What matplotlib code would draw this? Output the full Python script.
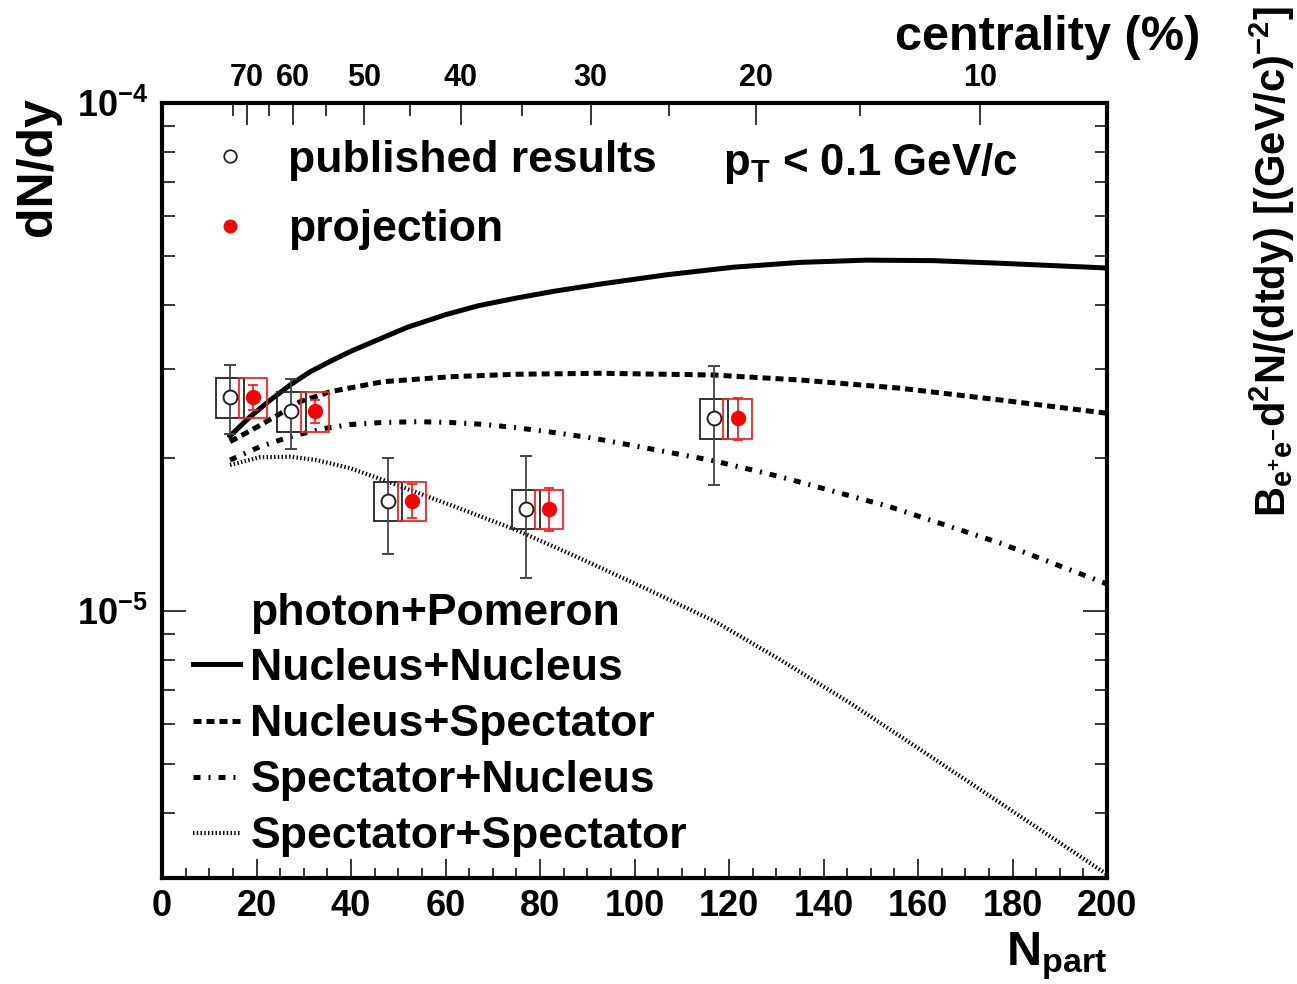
import matplotlib
matplotlib.use("Agg")
import matplotlib.pyplot as plt
from matplotlib.lines import Line2D
from matplotlib.patches import Rectangle
from matplotlib.ticker import FixedLocator, FixedFormatter, LogLocator, NullFormatter, MultipleLocator

plt.rcParams['font.family'] = ['Liberation Sans', 'DejaVu Sans']
plt.rcParams['font.weight'] = 'bold'
plt.rcParams['mathtext.fontset'] = 'custom'
plt.rcParams['mathtext.rm'] = 'Liberation Sans:bold'
plt.rcParams['mathtext.bf'] = 'Liberation Sans:bold'
plt.rcParams['mathtext.it'] = 'Liberation Sans:bold'
plt.rcParams['mathtext.default'] = 'bf'

# photon+Pomeron model curves, dN/dy vs Npart
npart_nn = [14.4, 18.6, 22.9, 27.1, 31.3, 35.6, 39.8, 45.4, 52.0, 60.0, 67.0, 75.0, 83.0, 92.7,
            106.8, 120.9, 135.0, 149.1, 163.2, 177.4, 198.5, 200.0]
dndy_nn = [2.21e-5, 2.41e-5, 2.60e-5, 2.785e-5, 2.955e-5, 3.10e-5, 3.24e-5, 3.41e-5, 3.62e-5, 3.83e-5,
           3.99e-5, 4.13e-5, 4.26e-5, 4.40e-5, 4.59e-5, 4.75e-5, 4.855e-5, 4.905e-5, 4.894e-5,
           4.836e-5, 4.74e-5, 4.73e-5]

npart_ns = [14.4, 20.0, 25.7, 29.2, 35.6, 46.8, 61.0, 75.0, 92.7, 116.7, 135.0, 156.2, 177.4, 200.0]
dndy_ns = [2.154e-5, 2.299e-5, 2.467e-5, 2.582e-5, 2.702e-5, 2.827e-5, 2.891e-5, 2.924e-5, 2.937e-5,
           2.914e-5, 2.849e-5, 2.745e-5, 2.602e-5, 2.45e-5]

npart_sn = [14.4, 20.7, 27.1, 34.1, 40.0, 46.8, 54.0, 61.0, 68.0, 75.0, 83.0, 91.3, 104.7, 116.8,
            130.8, 154.0, 177.4, 200.0]
dndy_sn = [1.982e-5, 2.105e-5, 2.203e-5, 2.285e-5, 2.328e-5, 2.350e-5, 2.358e-5, 2.350e-5, 2.330e-5,
           2.295e-5, 2.245e-5, 2.188e-5, 2.074e-5, 1.975e-5, 1.838e-5, 1.604e-5, 1.360e-5, 1.13e-5]

npart_ss = [14.4, 20.7, 27.1, 32.7, 39.8, 46.8, 61.0, 75.0, 88.5, 103.0, 117.1, 131.0, 145.7, 160.0,
            174.3, 187.0, 198.6, 200.0]
dndy_ss = [1.938e-5, 2.007e-5, 2.012e-5, 1.982e-5, 1.910e-5, 1.811e-5, 1.617e-5, 1.443e-5, 1.269e-5,
           1.10e-5, 9.526e-6, 8.0e-6, 6.58e-6, 5.37e-6, 4.377e-6, 3.65e-6, 3.09e-6, 3.03e-6]

# measured points and projection
npart_pub = [14.4, 27.4, 47.8, 77.0, 116.8]
npart_proj = [19.3, 32.4, 52.9, 81.9, 121.8]
dndy_pts = [2.64e-5, 2.475e-5, 1.649e-5, 1.59e-5, 2.401e-5]
stat_pub = [0.41e-5, 0.39e-5, 0.353e-5, 0.431e-5, 0.635e-5]
stat_proj = [0.15e-5, 0.13e-5, 0.125e-5, 0.153e-5, 0.228e-5]
sys_err = [0.24e-5, 0.22e-5, 0.147e-5, 0.143e-5, 0.217e-5]

# centrality scale on top, placed at the corresponding Npart
cent_major = [70, 60, 50, 40, 30, 20, 10]
npart_cent_major = [18.0, 27.8, 42.7, 63.2, 90.7, 125.8, 173.2]
npart_cent_minor = [15.0, 22.7, 34.8, 52.4, 76.1, 107.2, 147.8]

W, H = 1297, 984
fig = plt.figure(figsize=(W / 100, H / 100), dpi=100)
ax = fig.add_axes([162 / W, 1 - 878 / H, (1107 - 162) / W, (878 - 103) / H])
ax.set_yscale('log')
ax.set_xlim(0, 200)
ax.set_ylim(2.98e-6, 1e-4)

lw = 3.6
styles = {
    'nn': dict(ls='-', lw=lw),
    'ns': dict(ls=(0, (1.6, 1.0)), lw=lw),
    'sn': dict(ls=(0, (1.4, 1.6, 0.4, 1.6)), lw=lw),
    'ss': dict(ls=(0, (0.35, 0.55)), lw=3.0),
}
ax.plot(npart_nn, dndy_nn, color='k', zorder=2, **styles['nn'])
ax.plot(npart_ns, dndy_ns, color='k', zorder=2, **styles['ns'])
ax.plot(npart_sn, dndy_sn, color='k', zorder=2, **styles['sn'])
ax.plot(npart_ss, dndy_ss, color='k', zorder=2, **styles['ss'])

# systematic boxes
hw = 3.0
for xp, xr, y, s in zip(npart_pub, npart_proj, dndy_pts, sys_err):
    ax.add_patch(Rectangle((xp - hw, y - s), 2 * hw, 2 * s, fill=False, ec='#222222', lw=1.3, zorder=3))
    ax.add_patch(Rectangle((xr - hw, y - s), 2 * hw, 2 * s, fill=False, ec='#ff2020', lw=1.3, zorder=3))

ax.errorbar(npart_pub, dndy_pts, yerr=stat_pub, fmt='o', ms=10, mfc='white', mec='#222222',
            mew=1.4, ecolor='#444444', elinewidth=1.3, capsize=4.5, capthick=1.3, zorder=4)
ax.errorbar(npart_proj, dndy_pts, yerr=stat_proj, fmt='o', ms=10, mfc='red', mec='red',
            ecolor='#ff2020', elinewidth=1.3, capsize=3.5, capthick=1.3, zorder=4)

# axes and ticks
for sp in ax.spines.values():
    sp.set_linewidth(3.0)
ax.xaxis.set_major_locator(MultipleLocator(20))
ax.xaxis.set_minor_locator(MultipleLocator(5))
ax.yaxis.set_major_locator(FixedLocator([1e-5, 1e-4]))
ax.yaxis.set_major_formatter(FixedFormatter([r'$10^{-5}$', r'$10^{-4}$']))
ax.yaxis.set_minor_locator(LogLocator(base=10, subs=range(2, 10)))
ax.yaxis.set_minor_formatter(NullFormatter())
ax.tick_params(axis='x', which='major', direction='in', length=14, width=1.1,
               top=False, labelsize=26, pad=8)
ax.tick_params(axis='x', which='minor', direction='in', length=7, width=1.1, top=False)
ax.tick_params(axis='y', which='major', direction='in', length=17, width=1.1,
               right=True, labelsize=26, pad=10)
ax.tick_params(axis='y', which='minor', direction='in', length=9, width=1.1, right=True)

top = ax.twiny()
top.set_xlim(ax.get_xlim())
top.xaxis.set_major_locator(FixedLocator(npart_cent_major))
top.xaxis.set_major_formatter(FixedFormatter([str(c) for c in cent_major]))
top.xaxis.set_minor_locator(FixedLocator(npart_cent_minor))
top.tick_params(axis='x', which='major', direction='in', length=16, width=1.1, labelsize=22, pad=7)
top.tick_params(axis='x', which='minor', direction='in', length=9, width=1.1)
for sp in top.spines.values():
    sp.set_visible(False)

# legends
leg1 = ax.legend(
    [Line2D([], [], ls='none', marker='o', ms=9, mfc='white', mec='#222222', mew=1.3),
     Line2D([], [], ls='none', marker='o', ms=9, mfc='red', mec='red')],
    ['published results', 'projection'],
    loc='upper left', bbox_to_anchor=(208 / W, 1 - 140 / H), bbox_transform=fig.transFigure,
    frameon=False, fontsize=32, handlelength=1.0, handletextpad=0.8, labelspacing=0.64,
    borderpad=0, borderaxespad=0, numpoints=1)
ax.add_artist(leg1)

ax.legend(
    [Line2D([], [], color='k', **styles[k]) for k in ['nn', 'ns', 'sn', 'ss']],
    ['Nucleus+Nucleus', 'Nucleus+Spectator', 'Spectator+Nucleus', 'Spectator+Spectator'],
    loc='upper left', bbox_to_anchor=(193 / W, 1 - 648 / H), bbox_transform=fig.transFigure,
    frameon=False, fontsize=32, handlelength=1.06, handletextpad=0.23, labelspacing=0.34,
    borderpad=0, borderaxespad=0)

fig.text(250 / W, 1 - 613 / H, 'photon+Pomeron', fontsize=32, ha='left', va='center')
fig.text(723 / W, 1 - 164 / H, r'p$_{T}$ < 0.1 GeV/c', fontsize=31.5, ha='left', va='center')

fig.text(1200 / W, 1 - 37 / H, 'centrality (%)', fontsize=35, ha='right', va='center')
fig.text(38 / W, 1 - 97 / H, 'dN/dy', fontsize=36, rotation=90, ha='center', va='top')
fig.text(1272 / W, 1 - 262 / H, r'$B_{e^{+}e^{-}}d^{2}N/(dtdy)\ [(GeV/c)^{-2}]$',
         fontsize=30, rotation=90, ha='center', va='center')
fig.text(1107 / W, 1 - 965 / H, r'$N_{part}$', fontsize=35, ha='right', va='baseline')

fig.savefig('out.png', dpi=100)
